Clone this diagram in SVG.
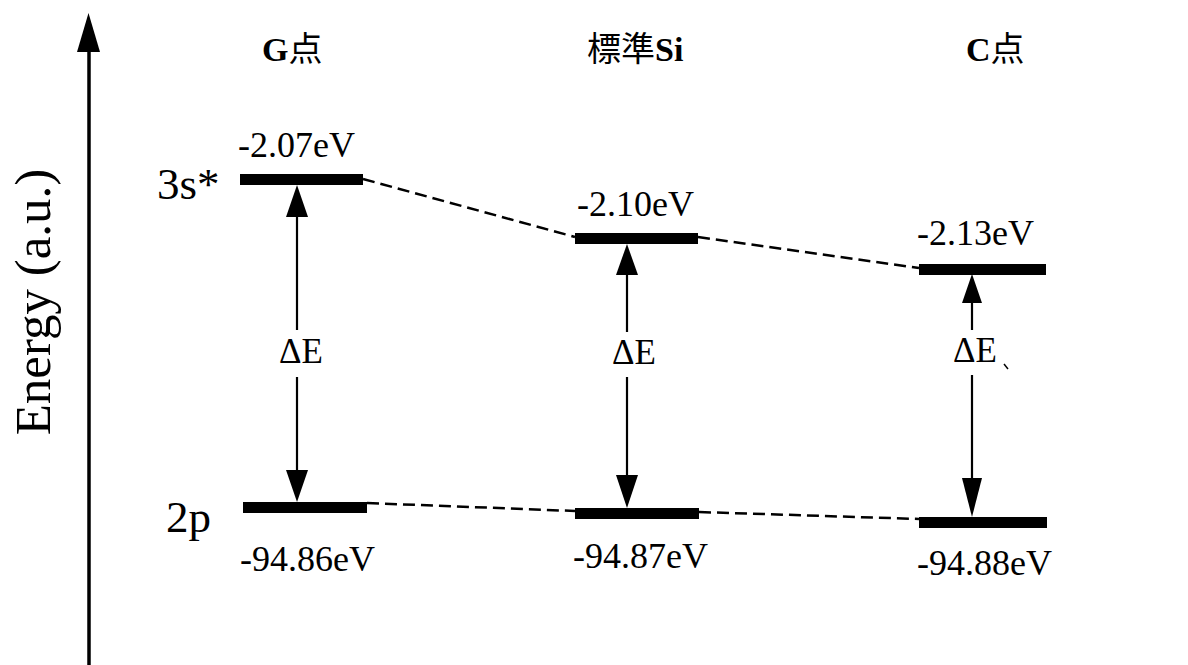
<svg xmlns="http://www.w3.org/2000/svg" width="1188" height="665" viewBox="0 0 1188 665">
  <style>
    .serif { font-family: "Liberation Serif", "Noto Sans CJK JP", serif; fill: #000; }
    .title { font-size: 34px; font-weight: bold; }
    .cjk { font-family: "Noto Sans CJK JP", sans-serif; font-weight: normal; font-size: 34px; }
    .val { font-size: 36px; }
    .lvl { font-size: 45px; }
    .de { font-size: 35px; }
    .bar { fill: #000; }
    .dash { stroke: #000; stroke-width: 2.5; stroke-dasharray: 12 6; fill: none; }
    .gap { stroke: #000; stroke-width: 2.2; fill: none; }
    .head { fill: #000; }
  </style>

  <!-- energy axis -->
  <g id="axis">
    <line x1="89" y1="48" x2="89" y2="665" stroke="#000" stroke-width="3.5"/>
    <polygon class="head" points="88.5,13 77,52 100,52"/>
    <text class="serif" font-size="51" transform="translate(50,302) rotate(-90)" text-anchor="middle">Energy (a.u.)</text>
  </g>

  <!-- level names -->
  <g id="level-names">
    <text class="serif lvl" x="157" y="199">3s*</text>
    <text class="serif lvl" x="166" y="532">2p</text>
  </g>

  <!-- column: G point -->
  <g id="col-g">
    <text class="serif title" x="262" y="61">G<tspan class="cjk">点</tspan></text>
    <g id="g-3s">
      <rect class="bar" x="240" y="174" width="123" height="11"/>
      <text class="serif val" x="238" y="157">-2.07eV</text>
    </g>
    <g id="g-2p">
      <rect class="bar" x="243" y="502" width="124" height="11"/>
      <text class="serif val" x="240" y="571">-94.86eV</text>
    </g>
    <g id="g-de">
      <polygon class="head" points="297,185 286,217 308,217"/>
      <line class="gap" x1="297" y1="216" x2="297" y2="330"/>
      <line class="gap" x1="297" y1="377" x2="297" y2="471"/>
      <polygon class="head" points="297,502 286,470 308,470"/>
      <text class="serif de" x="279" y="363">ΔE</text>
    </g>
  </g>

  <!-- column: standard Si -->
  <g id="col-si">
    <text class="serif title" x="587" y="61"><tspan class="cjk">標準</tspan>Si</text>
    <g id="si-3s">
      <rect class="bar" x="575" y="233" width="123" height="11"/>
      <text class="serif val" x="577" y="216">-2.10eV</text>
    </g>
    <g id="si-2p">
      <rect class="bar" x="575" y="508" width="124" height="11"/>
      <text class="serif val" x="573" y="568">-94.87eV</text>
    </g>
    <g id="si-de">
      <polygon class="head" points="627,244 616,275 638,275"/>
      <line class="gap" x1="627" y1="274" x2="627" y2="332"/>
      <line class="gap" x1="627" y1="377" x2="627" y2="476"/>
      <polygon class="head" points="627,508 616,475 638,475"/>
      <text class="serif de" x="612" y="364">ΔE</text>
    </g>
  </g>

  <!-- column: C point -->
  <g id="col-c">
    <text class="serif title" x="966" y="61">C<tspan class="cjk">点</tspan></text>
    <g id="c-3s">
      <rect class="bar" x="919" y="264" width="127" height="11"/>
      <text class="serif val" x="917" y="245">-2.13eV</text>
    </g>
    <g id="c-2p">
      <rect class="bar" x="919" y="517" width="128" height="11"/>
      <text class="serif val" x="917" y="575">-94.88eV</text>
    </g>
    <g id="c-de">
      <polygon class="head" points="972,274 962,303 982,303"/>
      <line class="gap" x1="972" y1="302" x2="972" y2="330"/>
      <line class="gap" x1="972" y1="375" x2="972" y2="479"/>
      <polygon class="head" points="972,517 962,478 982,478"/>
      <text class="serif de" x="953" y="362">ΔE</text>
      <line x1="1004" y1="364" x2="1008" y2="369" stroke="#000" stroke-width="1.5"/>
    </g>
  </g>

  <!-- correlation lines between columns -->
  <g id="connectors">
    <polyline class="dash" points="363,179 575,237"/>
    <polyline class="dash" points="698,237 919,268"/>
    <polyline class="dash" points="367,503 575,511"/>
    <polyline class="dash" points="699,512 919,519"/>
  </g>
</svg>
